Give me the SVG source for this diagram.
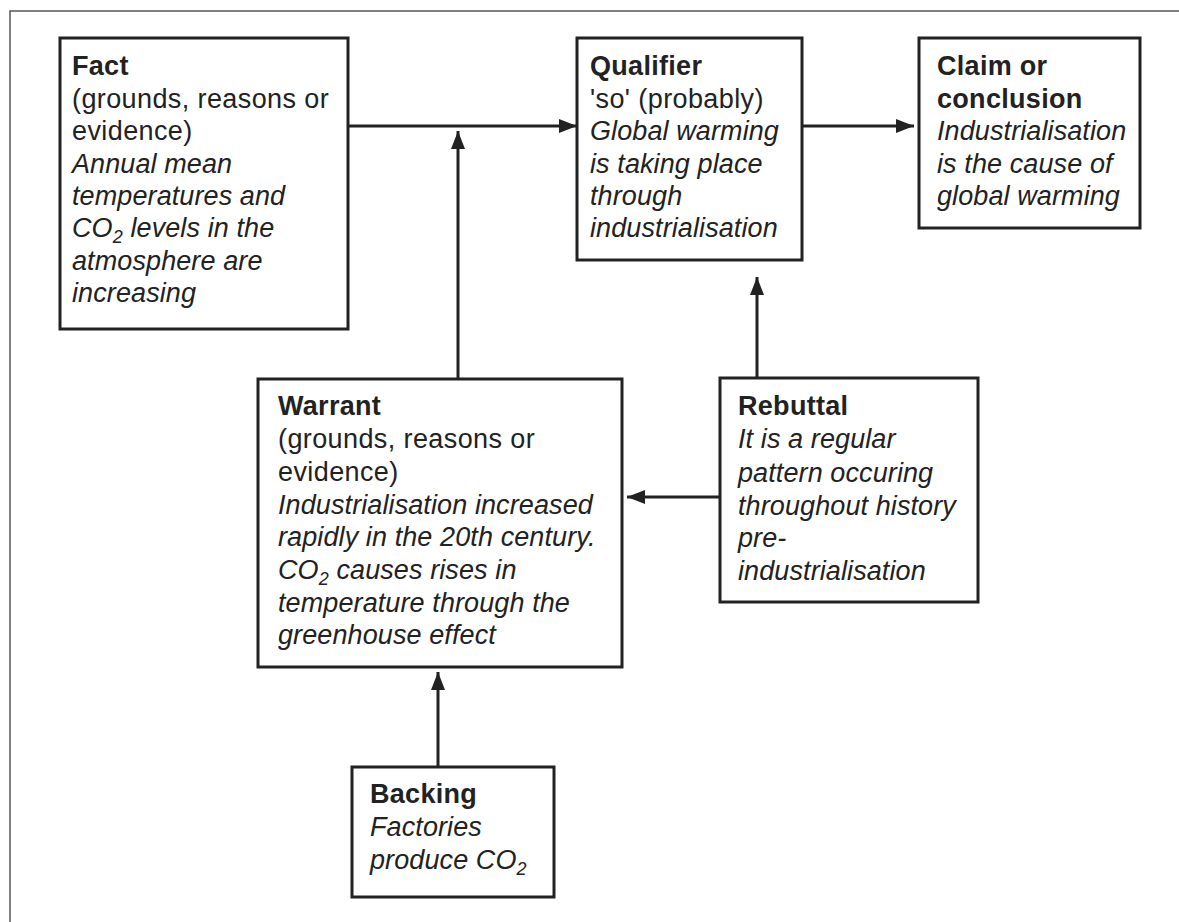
<svg xmlns="http://www.w3.org/2000/svg" width="1179" height="922" viewBox="0 0 1179 922">
<defs>
<style>
.box{fill:#fff;stroke:#222;stroke-width:3}
.t{font-family:"Liberation Sans",Arial,sans-serif;font-size:27px;fill:#222;letter-spacing:0.4px}
.b{font-weight:bold;letter-spacing:0.3px}
.i{font-style:italic;letter-spacing:0.1px}
.sub{font-size:18px}
.c{stroke:#222;stroke-width:3;fill:none;marker-end:url(#ah)}
</style>
<marker id="ah" viewBox="0 0 18 14" refX="18" refY="7" markerWidth="18" markerHeight="14" markerUnits="userSpaceOnUse" orient="auto">
<path d="M0,0 L18,7 L0,14 Z" fill="#222"/>
</marker>
</defs>
<rect width="1179" height="922" fill="#fff"/>
<g id="frame" stroke="#555" stroke-width="1.5" fill="none">
<path d="M1179,11 H10 V922"/>
</g>
<g id="connectors">
<path class="c" d="M348,126 H577"/>
<path class="c" d="M802,126 H914"/>
<path class="c" d="M458,379 V131"/>
<path class="c" d="M757,378 V277"/>
<path class="c" d="M720,497 H627"/>
<path class="c" d="M438,767 V672"/>
</g>
<g id="fact">
<rect class="box" x="60" y="38" width="288" height="291"/>
<text class="t">
<tspan class="b" x="72" y="75">Fact</tspan>
<tspan x="72" y="108">(grounds, reasons or</tspan>
<tspan x="72" y="140">evidence)</tspan>
<tspan class="i" x="72" y="173">Annual mean</tspan>
<tspan class="i" x="72" y="205">temperatures and</tspan>
<tspan class="i" x="72" y="237">CO<tspan class="sub" dy="6">2</tspan><tspan dy="-6"> levels in the</tspan></tspan>
<tspan class="i" x="72" y="270">atmosphere are</tspan>
<tspan class="i" x="72" y="302">increasing</tspan>
</text>
</g>
<g id="qualifier">
<rect class="box" x="577" y="38" width="225" height="222"/>
<text class="t">
<tspan class="b" x="590" y="75">Qualifier</tspan>
<tspan x="590" y="108">'so' (probably)</tspan>
<tspan class="i" x="590" y="140">Global warming</tspan>
<tspan class="i" x="590" y="173">is taking place</tspan>
<tspan class="i" x="590" y="205">through</tspan>
<tspan class="i" x="590" y="237">industrialisation</tspan>
</text>
</g>
<g id="claim">
<rect class="box" x="919" y="38" width="221" height="190"/>
<text class="t">
<tspan class="b" x="937" y="75">Claim or</tspan>
<tspan class="b" x="937" y="108">conclusion</tspan>
<tspan class="i" x="937" y="140">Industrialisation</tspan>
<tspan class="i" x="937" y="173">is the cause of</tspan>
<tspan class="i" x="937" y="205">global warming</tspan>
</text>
</g>
<g id="warrant">
<rect class="box" x="258" y="379" width="364" height="288"/>
<text class="t">
<tspan class="b" x="278" y="415">Warrant</tspan>
<tspan x="278" y="448">(grounds, reasons or</tspan>
<tspan x="278" y="481">evidence)</tspan>
<tspan class="i" x="278" y="514">Industrialisation increased</tspan>
<tspan class="i" x="278" y="546">rapidly in the 20th century.</tspan>
<tspan class="i" x="278" y="579">CO<tspan class="sub" dy="6">2</tspan><tspan dy="-6"> causes rises in</tspan></tspan>
<tspan class="i" x="278" y="612">temperature through the</tspan>
<tspan class="i" x="278" y="644">greenhouse effect</tspan>
</text>
</g>
<g id="rebuttal">
<rect class="box" x="720" y="378" width="258" height="224"/>
<text class="t">
<tspan class="b" x="738" y="415">Rebuttal</tspan>
<tspan class="i" x="738" y="448">It is a regular</tspan>
<tspan class="i" x="738" y="482">pattern occuring</tspan>
<tspan class="i" x="738" y="515">throughout history</tspan>
<tspan class="i" x="738" y="547">pre-</tspan>
<tspan class="i" x="738" y="580">industrialisation</tspan>
</text>
</g>
<g id="backing">
<rect class="box" x="352" y="767" width="202" height="130"/>
<text class="t">
<tspan class="b" x="370" y="803">Backing</tspan>
<tspan class="i" x="370" y="836">Factories</tspan>
<tspan class="i" x="370" y="869">produce CO<tspan class="sub" dy="6">2</tspan></tspan>
</text>
</g>
</svg>
